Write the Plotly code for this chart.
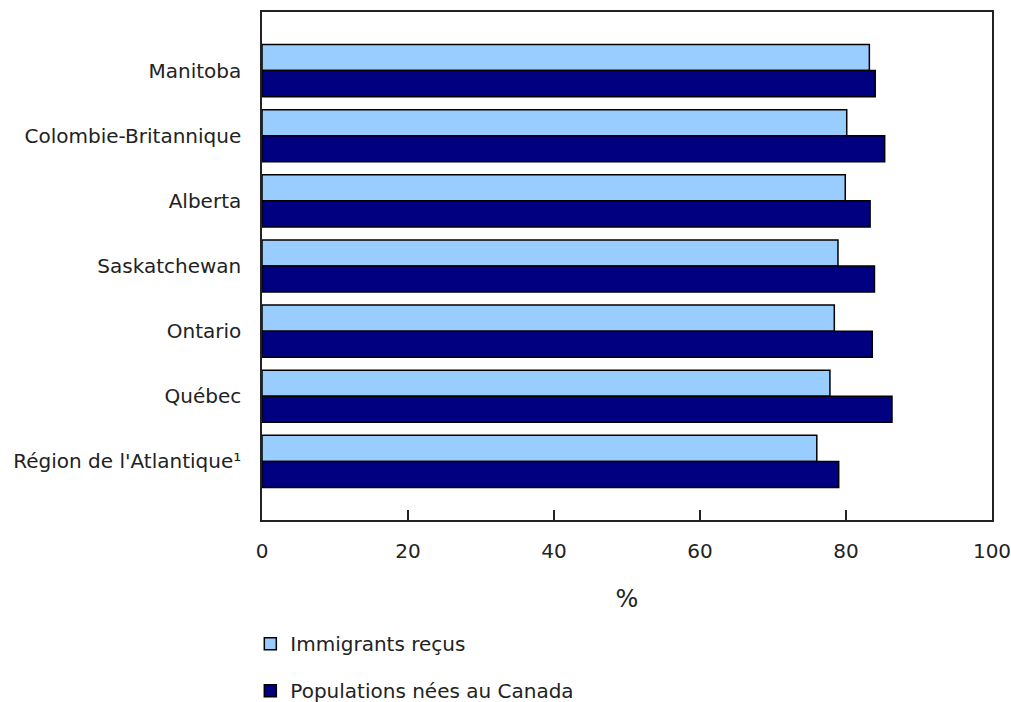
import plotly.graph_objects as go

categories = ["Manitoba", "Colombie-Britannique", "Alberta", "Saskatchewan",
              "Ontario", "Québec", "Région de l'Atlantique¹"]
immigrants = [83.2, 80.1, 79.9, 78.9, 78.4, 77.8, 76.0]
canadiens = [84.0, 85.3, 83.3, 83.9, 83.6, 86.3, 79.0]
x_ticks = [0, 20, 40, 60, 80, 100]

FONT = "Verdana, DejaVu Sans, sans-serif"

fig = go.Figure()
fig.add_trace(go.Bar(
    y=categories, x=immigrants, orientation="h", name="Immigrants reçus",
    marker=dict(color="#99CCFF", line=dict(color="#000000", width=1.5)),
    legendgroup="a",
))
fig.add_trace(go.Bar(
    y=categories, x=canadiens, orientation="h", name="Populations nées au Canada",
    marker=dict(color="#000080", line=dict(color="#000000", width=1.5)),
    legendgroup="b",
))

fig.update_layout(
    width=1011, height=702,
    margin=dict(l=262, r=19, t=12, b=182, autoexpand=False),
    paper_bgcolor="white", plot_bgcolor="white",
    font=dict(family=FONT, size=20, color="#222222"),
    barmode="group", bargap=0.2, bargroupgap=0,
    showlegend=True,
    legend=dict(x=-0.016, xanchor="left", y=-0.205, yanchor="top",
                orientation="v", tracegroupgap=18,
                font=dict(family=FONT, size=20, color="#222222"),
                bgcolor="rgba(0,0,0,0)"),
    xaxis=dict(range=[0, 100], tickvals=x_ticks, ticks="inside", ticklen=10,
               tickcolor="#222222", tickwidth=1.5, automargin=False,
               ticklabeloverflow="allow",
               showline=True, linecolor="#222222", linewidth=1.5, mirror=True,
               showgrid=False, zeroline=False, ticklabelstandoff=12,
               title=dict(text="%", standoff=28)),
    yaxis=dict(range=[6.9, -0.9], showline=True, linecolor="#222222",
               linewidth=1.5, mirror=True, ticks="", showgrid=False,
               automargin=False, ticklabeloverflow="allow",
               zeroline=False, ticklabelstandoff=15, type="category"),
)

fig.write_html("out.html")
